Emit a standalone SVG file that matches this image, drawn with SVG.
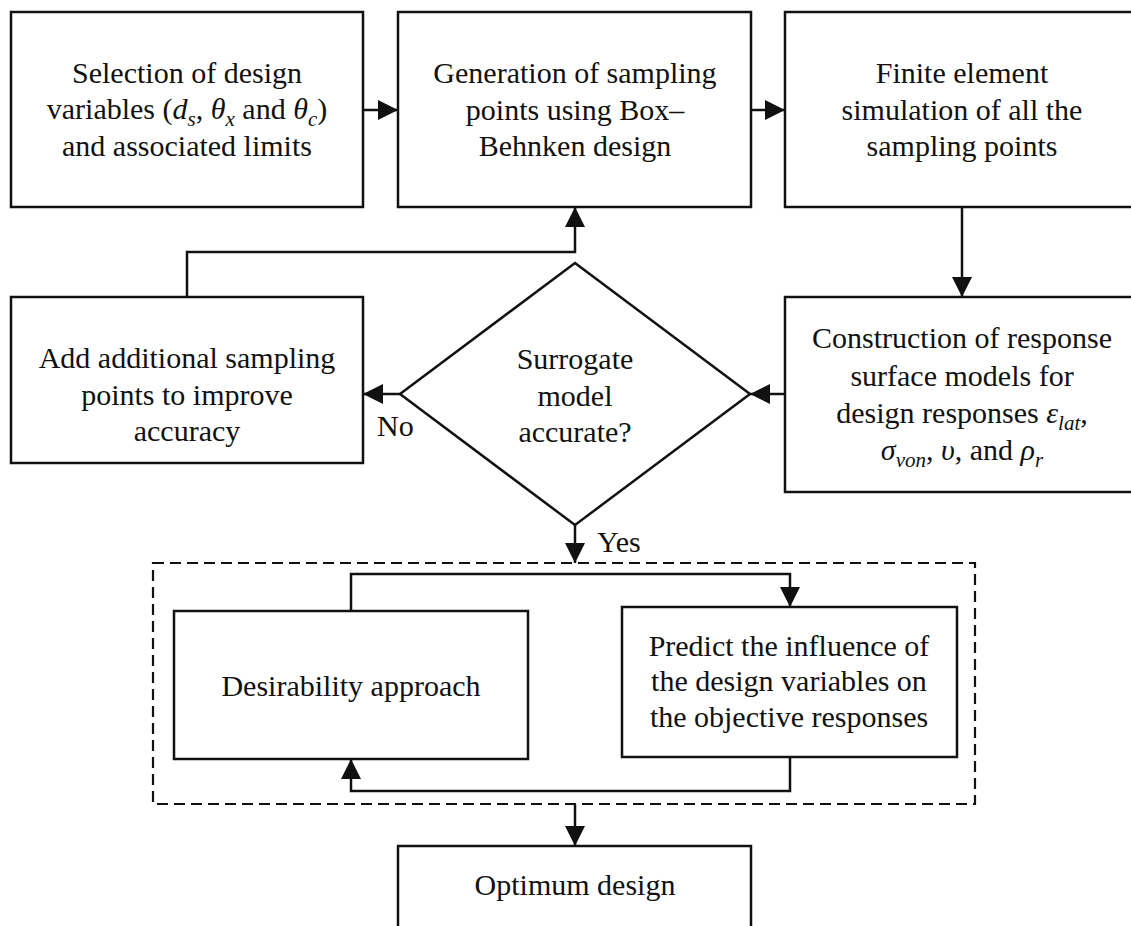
<svg xmlns="http://www.w3.org/2000/svg" width="1131" height="926" viewBox="0 0 1131 926">
<style>
.box{fill:#fff;stroke:#111;stroke-width:2.5}
.dash{fill:none;stroke:#111;stroke-width:2.2;stroke-dasharray:11 6}
.con{fill:none;stroke:#111;stroke-width:2.5}
text{font-family:"Liberation Serif","Times New Roman",serif;font-size:30px;fill:#111;text-anchor:middle}
.lbl{text-anchor:start}
.m{font-style:italic}
.s{font-style:italic;font-size:21px}
</style>
<defs>
<marker id="ah" viewBox="0 0 20 20" markerWidth="20" markerHeight="20" refX="20" refY="10" orient="auto" markerUnits="userSpaceOnUse">
<path d="M0,0 L20,10 L0,20 z" fill="#111"/>
</marker>
</defs>
<rect width="1131" height="926" fill="#fff"/>

<g id="connectors">
<line class="con" x1="363" y1="110" x2="398" y2="110" marker-end="url(#ah)"/>
<line class="con" x1="751" y1="110" x2="785" y2="110" marker-end="url(#ah)"/>
<line class="con" x1="962" y1="207" x2="962" y2="297" marker-end="url(#ah)"/>
<line class="con" x1="785" y1="394" x2="750" y2="394" marker-end="url(#ah)"/>
<line class="con" x1="400" y1="394" x2="363" y2="394" marker-end="url(#ah)"/>
<polyline class="con" points="187,297 187,252 575,252 575,207" marker-end="url(#ah)"/>
<line class="con" x1="575" y1="525" x2="575" y2="563" marker-end="url(#ah)"/>
<polyline class="con" points="351,611 351,574 790,574 790,607" marker-end="url(#ah)"/>
<polyline class="con" points="790,757 790,791 351,791 351,759" marker-end="url(#ah)"/>
<line class="con" x1="575" y1="804" x2="575" y2="846" marker-end="url(#ah)"/>
<text class="lbl" x="377" y="436">No</text>
<text class="lbl" x="597" y="552">Yes</text>
</g>

<g id="n1">
<rect class="box" x="11" y="12" width="352" height="195"/>
<text x="187" y="83">Selection of design</text>
<text x="187" y="119">variables (<tspan class="m">d</tspan><tspan class="s" dy="7">s</tspan><tspan dy="-7">, </tspan><tspan class="m">θ</tspan><tspan class="s" dy="7">x</tspan><tspan dy="-7"> and </tspan><tspan class="m">θ</tspan><tspan class="s" dy="7">c</tspan><tspan dy="-7">)</tspan></text>
<text x="187" y="156">and associated limits</text>
</g>

<g id="n2">
<rect class="box" x="398" y="12" width="353" height="195"/>
<text x="575" y="83">Generation of sampling</text>
<text x="575" y="120">points using Box–</text>
<text x="575" y="156">Behnken design</text>
</g>

<g id="n3">
<rect class="box" x="785" y="12" width="360" height="195"/>
<text x="962" y="83">Finite element</text>
<text x="962" y="120">simulation of all the</text>
<text x="962" y="156">sampling points</text>
</g>

<g id="n4">
<rect class="box" x="11" y="297" width="352" height="166"/>
<text x="187" y="368">Add additional sampling</text>
<text x="187" y="405">points to improve</text>
<text x="187" y="441">accuracy</text>
</g>

<g id="n5">
<rect class="box" x="785" y="297" width="360" height="195"/>
<text x="962" y="348">Construction of response</text>
<text x="962" y="386">surface models for</text>
<text x="962" y="423">design responses <tspan class="m">ε</tspan><tspan class="s" dy="7">lat</tspan><tspan dy="-7">,</tspan></text>
<text x="962" y="460"><tspan class="m">σ</tspan><tspan class="s" dy="7">von</tspan><tspan dy="-7">, </tspan><tspan class="m">υ</tspan>, and <tspan class="m">ρ</tspan><tspan class="s" dy="7">r</tspan></text>
</g>

<g id="decision">
<polygon class="box" points="575,263 750,394 575,525 400,394"/>
<text x="575" y="369">Surrogate</text>
<text x="575" y="406">model</text>
<text x="575" y="442">accurate?</text>
</g>

<g id="group">
<rect class="dash" x="153" y="563" width="822" height="241"/>
</g>

<g id="n6">
<rect class="box" x="174" y="611" width="354" height="148"/>
<text x="351" y="696">Desirability approach</text>
</g>

<g id="n7">
<rect class="box" x="622" y="607" width="335" height="150"/>
<text x="789" y="656">Predict the influence of</text>
<text x="789" y="691">the design variables on</text>
<text x="789" y="727">the objective responses</text>
</g>

<g id="n8">
<rect class="box" x="398" y="846" width="353" height="90"/>
<text x="575" y="895">Optimum design</text>
</g>
</svg>
